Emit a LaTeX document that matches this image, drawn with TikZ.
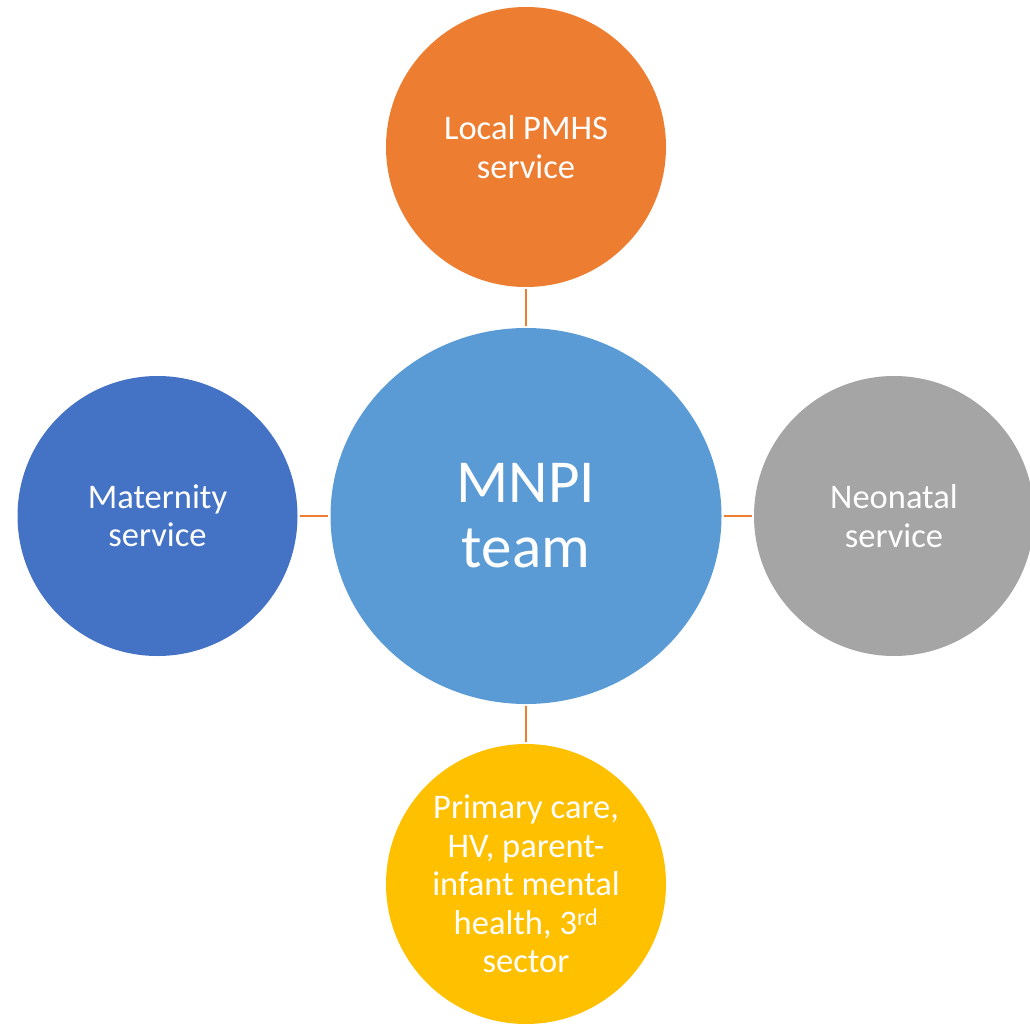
\documentclass[tikz,border=0pt]{standalone}
\usepackage{fontspec}
\setmainfont{Carlito}
\usetikzlibrary{shapes.geometric}
\definecolor{mnhub}{HTML}{5B9BD5}
\definecolor{mnorange}{HTML}{ED7D31}
\definecolor{mnblue}{HTML}{4472C4}
\definecolor{mngrey}{HTML}{A5A5A5}
\definecolor{mngold}{HTML}{FFC000}

\begin{document}
\begin{tikzpicture}[x=1pt, y=-1pt,
  svc/.style={circle, minimum size=280pt, inner sep=0pt, text=white, align=center,
    font=\fontsize{34.5}{38.5}\selectfont},
  hub/.style={ellipse, minimum width=391pt, minimum height=376pt, inner sep=0pt,
    fill=mnhub, text=white, align=center, font=\fontsize{61}{65}\selectfont},
  link/.style={draw=mnorange, line width=2.5pt, shorten <=2pt, shorten >=2pt}]
\useasboundingbox (0,0) rectangle (1030,1024);

% Central team
\node[hub] (mnpi) at (526,516) {MNPI\\team};

% Surrounding services
\node[svc, fill=mnorange] (pmhs) at (526,147) {Local PMHS\\service};
\node[svc, fill=mnblue] (mat) at (157.5,516) {Maternity\\service};
\node[svc, fill=mngrey] (neo) at (894,516) {Neonatal\\service};
\node[svc, fill=mngold] (prim) at (526,884) {Primary care,\\HV, parent-\\infant mental\\health, 3\textsuperscript{rd}\\sector};

% Links
\foreach \s/\a in {pmhs/north, mat/west, neo/east, prim/south} {
  \draw[link] (mnpi.\a) -- (\s);
}

\end{tikzpicture}
\end{document}
